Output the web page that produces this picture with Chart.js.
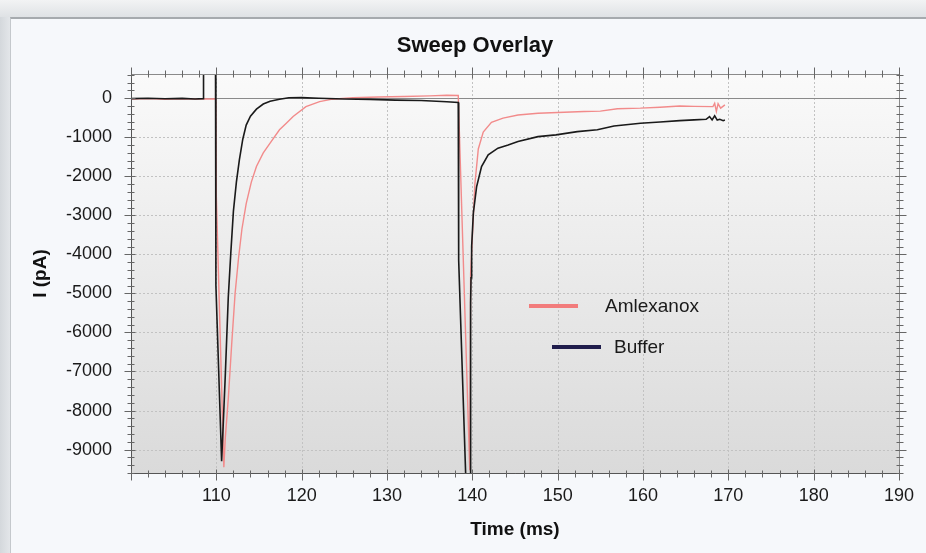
<!DOCTYPE html>
<html>
<head>
<meta charset="utf-8">
<title>Sweep Overlay</title>
<script src="https://cdn.jsdelivr.net/npm/chart.js@4.4.1/dist/chart.umd.min.js"></script>
<style>
  html, body { margin: 0; padding: 0; }
  body { width: 926px; height: 553px; position: relative; overflow: hidden; background: #e6e9ec; }
  #topband { position: absolute; left: 0; top: 0; width: 926px; height: 17px; background: linear-gradient(#f2f3f4, #dfe2e5); }
  #panel { position: absolute; left: 10px; top: 17px; width: 916px; height: 536px; background: #f6f8fb;
           border-top: 2px solid #a6aaae; border-left: 1px solid #c4c8cc; box-sizing: border-box; }
  #leftband { position: absolute; left: 0; top: 17px; width: 10px; height: 536px; background: linear-gradient(90deg, #d4d8dc, #e3e6e9); }
  canvas { position: absolute; left: 0; top: 0; }
</style>
</head>
<body>
<div id="topband"></div>
<div id="leftband"></div>
<div id="panel"></div>
<canvas id="sweepChart" width="926" height="553"></canvas>
<script>
// tick labels
const xTicks = [110, 120, 130, 140, 150, 160, 170, 180, 190];
const yTicks = [0, -1000, -2000, -3000, -4000, -5000, -6000, -7000, -8000, -9000];

// Buffer sweep: time (ms) and current (pA)
const bufferTime = [100, 102, 104, 106, 107.5, 108.45, 108.5, 109.9, 109.95, 110.62, 110.8, 111.05, 111.4, 111.7,
  112.0, 112.35, 112.7, 113.1, 113.5, 114.0, 114.7, 115.5, 116.3, 117.4, 118.5, 120, 122, 125, 128, 131, 134, 137,
  138.35, 138.4, 139.35, 139.75, 139.8, 139.85, 139.92, 140.12, 140.5, 141.08, 141.86, 143.0, 144.2, 145.35, 147.7,
  149.8, 152.3, 154.65, 156.6, 159.7, 162, 164.3, 166, 167.4, 167.8, 168.1, 168.4, 168.7, 169.0, 169.4, 169.6];
const bufferCurrent = [-10, 0, -15, -5, -20, -10, 1500, 1500, -4800, -9300, -8400, -7100, -5100, -3950,
  -2900, -2150, -1580, -1050, -690, -460, -280, -150, -80, -25, 10, 15, 0, -20, -30, -50, -60, -90,
  -110, -4150, -10500, -10500, -5250, -4600, -3800, -2940, -2270, -1750, -1450, -1280, -1200, -1110, -985,
  -940, -855, -810, -710, -640, -610, -575, -555, -540, -470, -555, -450, -560, -540, -575, -560];

// Amlexanox sweep
const amlexTime = [100, 102, 104, 106, 108, 109.95, 110.0, 110.88, 111.05, 111.4, 111.8, 112.2, 112.6, 113.0,
  113.5, 114.1, 114.7, 115.5, 116.3, 117.4, 118.2, 119.0, 120.5, 122.1, 123.6, 126, 129, 132, 135, 137,
  138.35, 139.7, 139.8, 140.1, 140.3, 140.7, 141.28, 142.24, 143.6, 145.35, 147.7, 150, 153.1, 155, 157, 159.7,
  162, 164.3, 166, 168.2, 168.4, 168.6, 168.8, 169.1, 169.6];
const amlexCurrent = [-20, -10, -25, -15, -20, -20, -2520, -9450, -8700, -7700, -6300, -5000, -4100, -3350,
  -2700, -2150, -1750, -1400, -1150, -810, -640, -470, -215, -87, -25, 10, 30, 45, 60, 75,
  70, -9530, -4490, -3120, -2200, -1300, -870, -620, -510, -430, -385, -365, -340, -330, -270, -255,
  -230, -200, -210, -215, -130, -340, -140, -255, -170];

const xMinor = [];
for (let v = 100; v <= 190; v += 2) xMinor.push(v);
const yMinor = [];
for (let v = -9600; v <= 600; v += 200) yMinor.push(v);

const fontFamily = "'Liberation Sans', Arial, sans-serif";

const plotDecor = {
  id: 'plotDecor',
  beforeDatasetsDraw(chart) {
    const {ctx, chartArea: a, scales: {x, y}} = chart;
    ctx.save();
    const g = ctx.createLinearGradient(0, a.top, 0, a.bottom);
    g.addColorStop(0, '#fafafa');
    g.addColorStop(1, '#dadada');
    ctx.fillStyle = g;
    ctx.fillRect(a.left, a.top, a.width, a.height);

    ctx.lineWidth = 1;
    ctx.strokeStyle = '#c2c2c2';
    ctx.setLineDash([2, 2]);
    xTicks.forEach(v => {
      const px = Math.round(x.getPixelForValue(v)) + 0.5;
      ctx.beginPath(); ctx.moveTo(px, a.top); ctx.lineTo(px, a.bottom); ctx.stroke();
    });
    yTicks.forEach(v => {
      if (v === 0) return;
      const py = Math.round(y.getPixelForValue(v)) + 0.5;
      ctx.beginPath(); ctx.moveTo(a.left, py); ctx.lineTo(a.right, py); ctx.stroke();
    });
    ctx.setLineDash([]);
    ctx.strokeStyle = '#8a8a8a';
    const zy = Math.round(y.getPixelForValue(0)) + 0.5;
    ctx.beginPath(); ctx.moveTo(a.left, zy); ctx.lineTo(a.right, zy); ctx.stroke();
    ctx.restore();
  },
  afterDatasetsDraw(chart) {
    const {ctx, chartArea: a, scales: {x, y}} = chart;
    ctx.save();
    ctx.lineWidth = 1;
    // frame
    ctx.strokeStyle = '#8a8a8a';
    ctx.strokeRect(Math.round(a.left) + 0.5, Math.round(a.top) + 0.5, Math.round(a.width), Math.round(a.height));
    ctx.strokeStyle = '#555';
    ctx.beginPath();
    ctx.moveTo(Math.round(a.left) + 0.5, a.top);
    ctx.lineTo(Math.round(a.left) + 0.5, Math.round(a.bottom) + 0.5);
    ctx.lineTo(a.right, Math.round(a.bottom) + 0.5);
    ctx.stroke();

    // tick marks on all four sides
    ctx.strokeStyle = '#666';
    const L = Math.round(a.left) + 0.5, R = Math.round(a.right) + 0.5;
    const T = Math.round(a.top) + 0.5, B = Math.round(a.bottom) + 0.5;
    ctx.beginPath();
    xMinor.forEach(v => {
      const px = Math.round(x.getPixelForValue(v)) + 0.5;
      const major = v % 10 === 0;
      const out = major ? 7 : 4, inn = major ? 4 : 3;
      ctx.moveTo(px, B - inn); ctx.lineTo(px, B + out);
      ctx.moveTo(px, T + inn); ctx.lineTo(px, T - out);
    });
    yMinor.forEach(v => {
      const py = Math.round(y.getPixelForValue(v)) + 0.5;
      const major = v % 1000 === 0;
      const out = major ? 7 : 4, inn = major ? 4 : 3;
      ctx.moveTo(L + inn, py); ctx.lineTo(L - out, py);
      ctx.moveTo(R - inn, py); ctx.lineTo(R + out, py);
    });
    ctx.stroke();

    // legend inside the plot
    ctx.lineWidth = 4;
    ctx.strokeStyle = '#f27c7c';
    ctx.beginPath(); ctx.moveTo(529, 306); ctx.lineTo(578, 306); ctx.stroke();
    ctx.strokeStyle = '#201d4c';
    ctx.beginPath(); ctx.moveTo(552, 347); ctx.lineTo(601, 347); ctx.stroke();
    ctx.fillStyle = '#1a1a1a';
    ctx.font = "19px " + fontFamily;
    ctx.textBaseline = 'middle';
    ctx.textAlign = 'left';
    ctx.fillText('Amlexanox', 605, 307);
    ctx.fillText('Buffer', 614, 348);
    ctx.restore();
  }
};

document.addEventListener('DOMContentLoaded', (event) => {
  const ctx = document.getElementById('sweepChart');

  new Chart(ctx, {
    type: 'line',
    data: {
      datasets: [{
        label: 'Buffer',
        data: bufferTime.map((t, i) => ({x: t, y: bufferCurrent[i]})),
        borderColor: '#1a1a1a',
        borderWidth: 1.6,
        pointRadius: 0,
        tension: 0,
      }, {
        label: 'Amlexanox',
        data: amlexTime.map((t, i) => ({x: t, y: amlexCurrent[i]})),
        borderColor: '#f28b8b',
        borderWidth: 1.4,
        pointRadius: 0,
        tension: 0,
      }]
    },
    options: {
      responsive: false,
      animation: false,
      devicePixelRatio: 1,
      layout: {padding: {top: 33, right: 22, left: 46, bottom: 0}},
      plugins: {
        legend: {display: false},
        tooltip: {enabled: false},
        title: {
          display: true,
          text: 'Sweep Overlay',
          color: '#111',
          font: {family: fontFamily, size: 22, weight: 'bold'},
          padding: {top: 0, bottom: 14.6}
        }
      },
      scales: {
        x: {
          type: 'linear',
          min: 100,
          max: 190,
          afterBuildTicks: (scale) => { scale.ticks = xTicks.map(v => ({value: v})); },
          afterFit: (scale) => { scale.height = 80; },
          grid: {display: false, drawTicks: false},
          border: {display: false},
          ticks: {color: '#1a1a1a', padding: 12, font: {family: fontFamily, size: 18},
                  callback: (v) => String(v)},
          title: {
            display: true,
            text: 'Time (ms)',
            color: '#111',
            font: {family: fontFamily, size: 19, weight: 'bold'},
            padding: {top: 0, bottom: 12}
          }
        },
        y: {
          type: 'linear',
          min: -9600,
          max: 620,
          afterBuildTicks: (scale) => { scale.ticks = yTicks.map(v => ({value: v})); },
          afterFit: (scale) => { scale.width = 85; },
          grid: {display: false, drawTicks: false},
          border: {display: false},
          ticks: {color: '#1a1a1a', padding: 19, font: {family: fontFamily, size: 18},
                  callback: (v) => String(v)},
          title: {
            display: true,
            text: 'I (pA)',
            color: '#111',
            font: {family: fontFamily, size: 19, weight: 'bold'},
            padding: {top: -17, bottom: 0}
          }
        }
      }
    },
    plugins: [plotDecor]
  });
});
</script>
</body>
</html>
